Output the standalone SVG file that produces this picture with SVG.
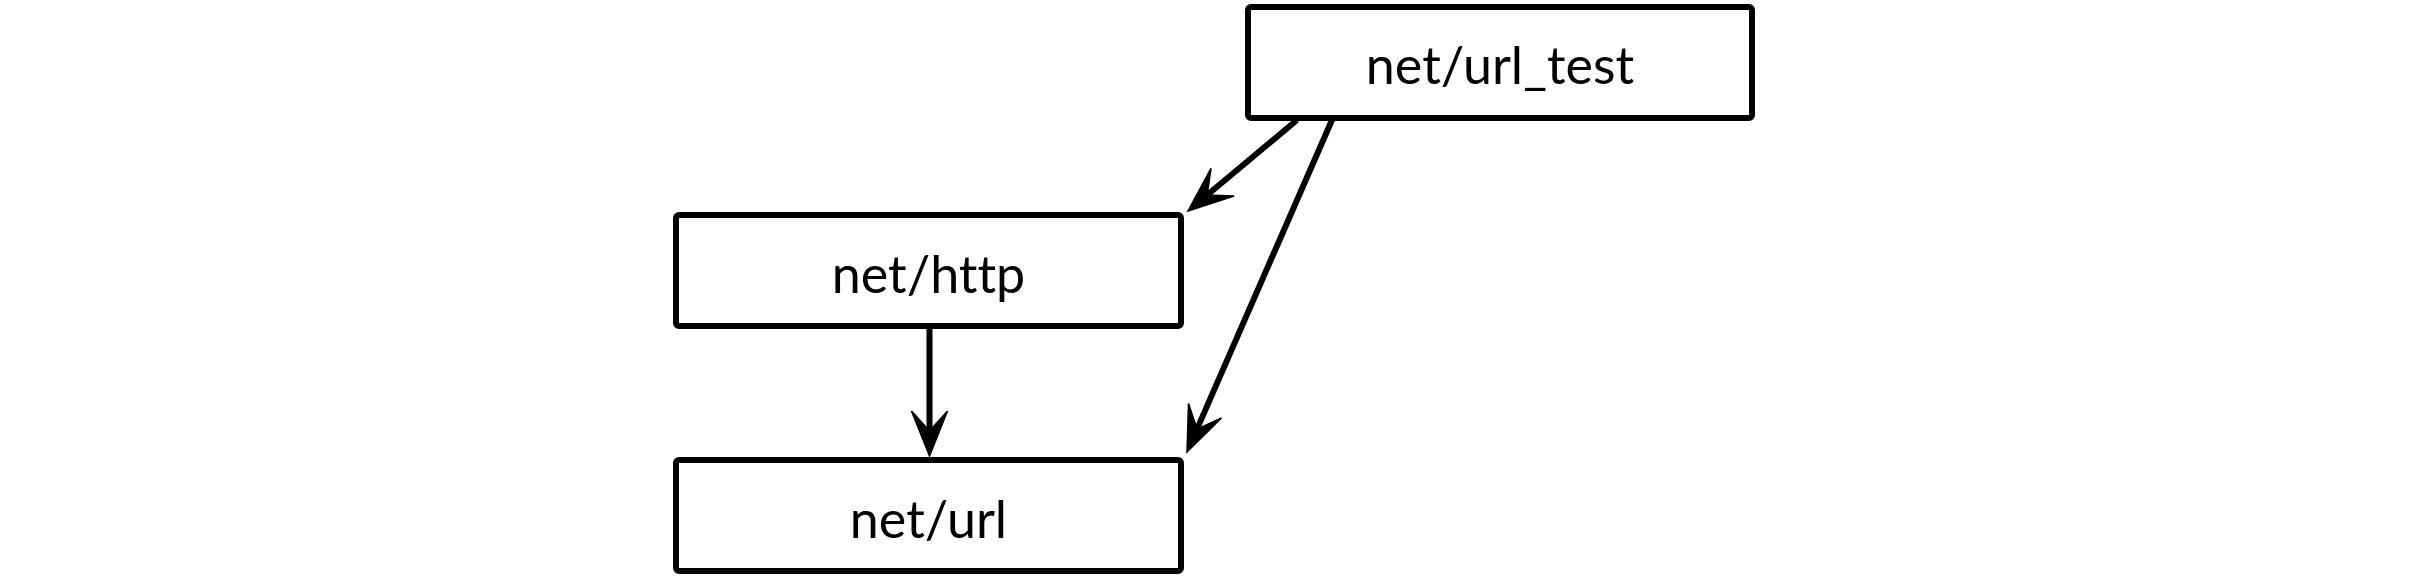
<svg xmlns="http://www.w3.org/2000/svg" width="2415" height="582" viewBox="0 0 2415 582">
<style>
.node rect{fill:#fff;stroke:#000;stroke-width:6}
.node text{font-family:Lato,"Noto Sans",sans-serif;font-size:52px;text-anchor:middle;fill:#000;font-variant-ligatures:none;font-feature-settings:"liga" 0}
.edge{fill:none;stroke:#000;stroke-width:6}
</style>
<defs>
<marker id="arr" markerUnits="userSpaceOnUse" orient="auto" overflow="visible" markerWidth="10" markerHeight="10" refX="0" refY="0">
<path d="M25,0 L-20,-18 L0,0 L-20,18 Z" fill="#000" stroke="#000" stroke-width="1.5" stroke-linejoin="miter"/>
</marker>
</defs>
<rect width="2415" height="582" fill="#fff"/>
<g id="connectors">
<path class="edge" d="M1297,120 L1207.2,195" marker-end="url(#arr)"/>
<path class="edge" d="M1332,120 L1197,429.1" marker-end="url(#arr)"/>
<path class="edge" d="M929.5,326 L929.5,431" marker-end="url(#arr)"/>
</g>
<g id="net_url_test" class="node">
<rect x="1248" y="7" width="504" height="111" rx="3"/>
<text x="1500" y="84">net/url_test</text>
</g>
<g id="net_http" class="node">
<rect x="676" y="215" width="505" height="111" rx="3"/>
<text x="928.5" y="293">net/http</text>
</g>
<g id="net_url" class="node">
<rect x="676" y="460" width="505" height="111" rx="3"/>
<text x="928.5" y="538">net/url</text>
</g>
</svg>
